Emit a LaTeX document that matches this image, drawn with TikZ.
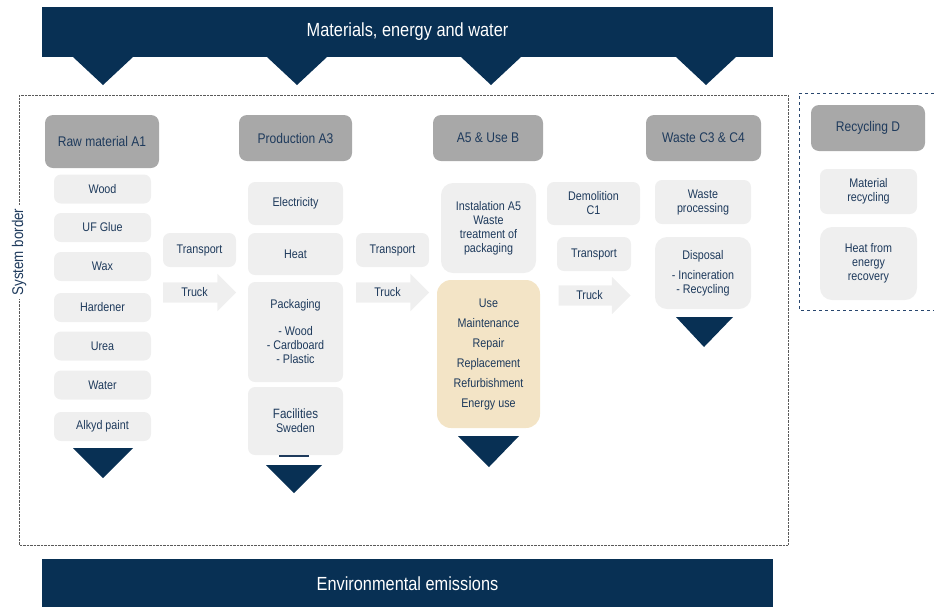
\documentclass[tikz,border=0pt]{standalone}
\usepackage{fontspec}
\setmainfont{Liberation Sans}[FakeStretch=0.86]
\usetikzlibrary{shapes.arrows}

\definecolor{navy}{RGB}{8,48,84}
\definecolor{headgrey}{RGB}{168,168,168}
\definecolor{itemgrey}{RGB}{239,239,239}
\definecolor{usetan}{RGB}{243,228,198}
\definecolor{txtblue}{RGB}{30,58,92}
\definecolor{bordergrey}{RGB}{90,90,90}
\definecolor{recblue}{RGB}{40,70,110}

\tikzset{
  banner/.style={fill=navy, text=white, inner sep=0pt, font=\fontsize{19}{21}\selectfont},
  head/.style={fill=headgrey, text=txtblue, rounded corners=8pt, inner sep=0pt,
    minimum height=46pt, font=\fontsize{14}{16}\selectfont},
  item/.style={fill=itemgrey, text=txtblue, rounded corners=7pt, inner sep=0pt,
    align=center, font=\fontsize{12.5}{14}\selectfont},
  truck/.style={single arrow, fill=itemgrey, text=txtblue, inner xsep=2pt, inner ysep=5pt,
    text height=9pt, text depth=1pt, minimum height=73pt, minimum width=37pt,
    single arrow head extend=8.5pt, font=\fontsize{12.5}{14}\selectfont},
  hang/.style={fill=navy}
}

\begin{document}
\begin{tikzpicture}[x=1pt, y=-1pt]
            \useasboundingbox (0,0) rectangle (934,606);
            % Banners
            \node[banner, minimum width=731pt, minimum height=50pt] (inputs) at (407.5,32) {Materials, energy and water};
            \node[banner, minimum width=731pt, minimum height=50pt] (emissions) at (407.5,584) {Environmental emissions};
            \foreach \cx in {103,297,491,706}
                \fill[hang] (\cx-30,57) -- (\cx+30,57) -- (\cx,85) -- cycle;

            % System borders
            \draw[bordergrey, densely dotted] (19,95) rectangle (788,545);
            \draw[recblue, dashed, line width=1pt] (940,93) -- (799,93) -- (799,310) -- (940,310);
            \node[fill=white, rotate=90, text=txtblue, font=\fontsize{15.5}{17}\selectfont] (border) at (19,252) {System border};

            % Raw material A1
            \node[head, minimum width=114pt, minimum height=53pt] (A1) at (102,141.5) {Raw material A1};
            \node[item, minimum width=97pt, minimum height=29pt] (wood) at (102.5,189) {Wood};
            \node[item, minimum width=97pt, minimum height=29pt] (glue) at (102.5,227.5) {UF Glue};
            \node[item, minimum width=97pt, minimum height=29pt] (wax) at (102.5,266.5) {Wax};
            \node[item, minimum width=97pt, minimum height=29pt] (hardener) at (102.5,307.5) {Hardener};
            \node[item, minimum width=97pt, minimum height=29pt] (urea) at (102.5,346) {Urea};
            \node[item, minimum width=97pt, minimum height=29pt] (water) at (102.5,385) {Water};
            \node[item, minimum width=97pt, minimum height=29pt] (paint) at (102.5,426.5) {Alkyd paint};
            \fill[hang] (73,448) -- (133,448) -- (103,478) -- cycle;

            \node[item, minimum width=73pt, minimum height=34pt] (transportA) at (199.5,250) {Transport};
            \node[truck] (truckA) at (194.5,292.5) {Truck};

            % Production A3
            \node[head, minimum width=113pt] (A3) at (295.5,138) {Production A3};
            \node[item, minimum width=95pt, minimum height=43pt] (electricity) at (295.5,203.5) {Electricity};
            \node[item, minimum width=95pt, minimum height=42pt] (heat) at (295.5,254) {Heat};
            \node[item, minimum width=95pt, minimum height=100pt] (packaging) at (295.5,332) {Packaging\\[13pt]- Wood\\- Cardboard\\- Plastic};
            \node[item, minimum width=95pt, minimum height=68pt] (facilities) at (295.5,421) {{\fontsize{13.5}{15}\selectfont Facilities}\\Sweden};
            \draw[txtblue, line width=1.5pt] (279,456) -- (309,456);
            \fill[hang] (266,465) -- (322,465) -- (294,493) -- cycle;

            \node[item, minimum width=73pt, minimum height=34pt] (transportB) at (392.5,250) {Transport};
            \node[truck] (truckB) at (387.5,292.5) {Truck};

            % A5 & Use B
            \node[head, minimum width=110pt] (A5) at (488,138) {A5 \& Use B};
            \node[item, minimum width=95pt, minimum height=90pt, rounded corners=12pt] (install) at (488.5,228) {Instalation A5\\Waste\\treatment of\\packaging};
            \node[item, fill=usetan, minimum width=103pt, minimum height=148pt, rounded corners=14pt,
                  font=\fontsize{12.5}{20}\selectfont] (use) at (488.5,354) {Use\\Maintenance\\Repair\\Replacement\\Refurbishment\\Energy use};
            \fill[hang] (458,436) -- (519,436) -- (489,467) -- cycle;

            \node[item, minimum width=93pt, minimum height=43pt] (demolition) at (593.5,203.5) {Demolition\\C1};
            \node[item, minimum width=74pt, minimum height=34pt] (transportC) at (594,254) {Transport};
            \node[truck, minimum height=72pt] (truckC) at (589.5,295.5) {Truck};

            % Waste C3 & C4
            \node[head, minimum width=115pt] (C34) at (703.5,138) {Waste C3 \& C4};
            \node[item, minimum width=96pt, minimum height=44pt] (processing) at (703,202) {Waste\\processing};
            \node[item, minimum width=96pt, minimum height=72pt, rounded corners=12pt] (disposal) at (703,273) {Disposal\\[6pt]- Incineration\\- Recycling};
            \fill[hang] (676,317) -- (733,317) -- (704,347) -- cycle;

            % Recycling D
            \node[head, minimum width=114pt] (D) at (868,128) {Recycling D};
            \node[item, minimum width=97pt, minimum height=45pt] (matrec) at (868.5,191.5) {Material\\recycling};
            \node[item, minimum width=97pt, minimum height=73pt, rounded corners=12pt] (heatrec) at (868.5,263.5) {Heat from\\energy\\recovery};
\end{tikzpicture}
\end{document}
